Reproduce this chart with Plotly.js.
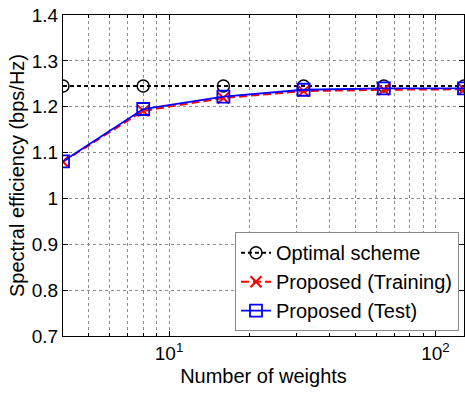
<!DOCTYPE html>
<html><head><meta charset="utf-8">
<script src="https://cdn.plot.ly/plotly-3.0.1.min.js"></script>
<style>body{margin:0;padding:0;background:#fff}#chart{width:465px;height:394px}</style>
</head><body><div id="chart"></div>
<script>
const weights = [4, 8, 16, 32, 64, 128];
const optimal = [1.245, 1.245, 1.245, 1.245, 1.245, 1.245];
const training = [1.080, 1.191, 1.219, 1.234, 1.237, 1.238];
const test = [1.081, 1.195, 1.222, 1.237, 1.240, 1.240];
const seriesNames = ['Optimal scheme', 'Proposed (Training)', 'Proposed (Test)'];
const yTickVals = [0.7, 0.8, 0.9, 1.0, 1.1, 1.2, 1.3, 1.4];
const yTickText = ['0.7', '0.8', '0.9', '1', '1.1', '1.2', '1.3', '1.4'];
const xTickVals = [10, 100];
const xTickText = ['10<sup>1</sup>', '10<sup>2</sup>'];
const xMinorVals = [4,5,6,7,8,9,20,30,40,50,60,70,80,90];

const font = 'Liberation Sans, Arial, Helvetica, sans-serif';
const traces = [
  {x: weights, y: optimal, name: seriesNames[0], mode: 'lines+markers',
   line: {color: '#000', width: 2, dash: '4px,3px'},
   marker: {symbol: 'circle-open', size: 12, color: '#000', line: {width: 1.5}}},
  {x: weights, y: training, name: seriesNames[1], mode: 'lines+markers',
   line: {color: '#ff0000', width: 2, dash: '8px,4px'},
   marker: {symbol: 'x-thin-open', size: 11, color: '#ff0000', line: {width: 2, color: '#ff0000'}}},
  {x: weights, y: test, name: seriesNames[2], mode: 'lines+markers',
   line: {color: '#0000ff', width: 1.8},
   marker: {symbol: 'square-open', size: 12, color: '#0000ff', line: {width: 1.8}}}
];
const gridStyle = {color: '#8c8c8c', dash: 'dot'};
const layout = {
  width: 465, height: 394,
  margin: {l: 63, r: 1, t: 15, b: 58},
  paper_bgcolor: '#fff', plot_bgcolor: '#fff',
  font: {family: font, color: '#000', size: 20},
  showlegend: true,
  legend: {x: 0.9875, y: 0.015, xanchor: 'right', yanchor: 'bottom',
    bgcolor: '#fff', bordercolor: '#888', borderwidth: 1,
    font: {size: 20, family: font}, tracegroupgap: 0, itemwidth: 30},
  xaxis: {type: 'log', range: [Math.log10(4), Math.log10(128)],
    tickvals: xTickVals, ticktext: xTickText, ticks: 'inside', ticklen: 5,
    tickcolor: '#000', mirror: 'allticks', showline: true, linecolor: '#000', linewidth: 1,
    showgrid: true, gridcolor: gridStyle.color, griddash: gridStyle.dash, gridwidth: 1,
    minor: {tickvals: xMinorVals, ticks: 'inside', ticklen: 3, tickcolor: '#000',
      showgrid: true, gridcolor: gridStyle.color, griddash: gridStyle.dash, gridwidth: 1},
    zeroline: false, tickfont: {size: 19},
    title: {text: 'Number of weights', font: {size: 20}, standoff: 6}},
  yaxis: {range: [0.7, 1.4], tickvals: yTickVals, ticktext: yTickText,
    ticks: 'inside', ticklen: 5, tickcolor: '#000', mirror: 'allticks',
    showline: true, linecolor: '#000', linewidth: 1,
    showgrid: true, gridcolor: gridStyle.color, griddash: gridStyle.dash, gridwidth: 1,
    zeroline: false, tickfont: {size: 19},
    title: {text: 'Spectral efficiency (bps/Hz)', font: {size: 20}, standoff: 1}}
};
Plotly.newPlot('chart', traces, layout, {staticPlot: true, displayModeBar: false});
</script></body></html>
